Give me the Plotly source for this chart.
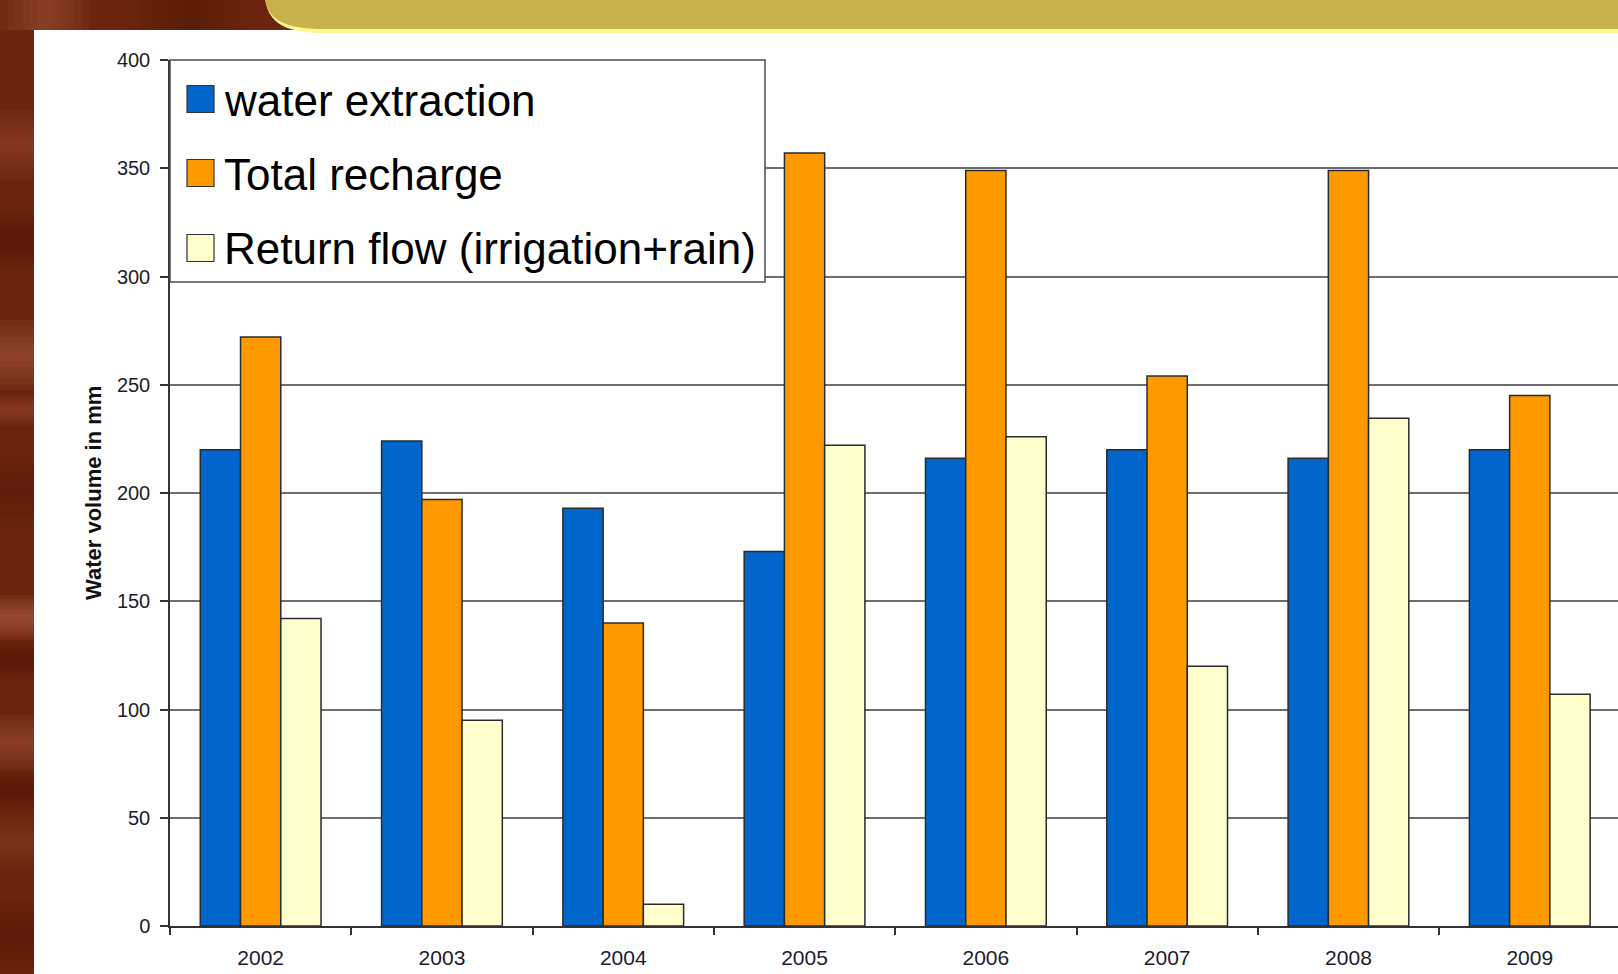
import plotly.graph_objects as go

# ---- data -------------------------------------------------------------
years = ["2002", "2003", "2004", "2005", "2006", "2007", "2008", "2009"]
water_extraction = [220, 224, 193, 173, 216, 220, 216, 220]
total_recharge = [272, 197, 140, 357, 349, 254, 349, 245]
return_flow = [142, 95, 10, 222, 226, 120, 234.5, 107]

series_names = ["water extraction", "Total recharge", "Return flow (irrigation+rain)"]
series_colors = ["#0066cc", "#ff9900", "#ffffcc"]
y_ticks = [0, 50, 100, 150, 200, 250, 300, 350, 400]

# ---- page geometry (pixels) --------------------------------------------
W, H = 1618, 974
L, R, T, B = 170, 0, 60, 48
PW, PH = W - L - R, H - T - B


def px(x):
    return (x - L) / PW


def py(y):
    return (H - B - y) / PH


FONT = "Liberation Sans, Arial, sans-serif"

fig = go.Figure()
for name, vals, col in zip(series_names, [water_extraction, total_recharge, return_flow], series_colors):
    fig.add_trace(go.Bar(
        x=years, y=vals, name=name,
        marker=dict(color=col, line=dict(color="#2b2b2b", width=1.5)),
        showlegend=False,
    ))

shapes = []


def soft_band(x0, y0, x1, y1, color, opacity, vertical=True, steps=6):
    """Stack of translucent rectangles giving a band with feathered edges."""
    for i in range(steps):
        f = i / steps
        if vertical:
            h = (y1 - y0) * (1 - f) / 2
            c = (y0 + y1) / 2
            a, b, c0, c1 = x0, x1, c - h, c + h
        else:
            w = (x1 - x0) * (1 - f) / 2
            c = (x0 + x1) / 2
            a, b, c0, c1 = c - w, c + w, y0, y1
        shapes.append(dict(type="rect", xref="paper", yref="paper",
                           x0=px(a), x1=px(b), y0=py(c1), y1=py(c0),
                           fillcolor=color, opacity=opacity / steps,
                           line_width=0, layer="below"))


# marbled brown frame
for x0, y0, x1, y1, c, o, v in [
    (0, 0, 90, 30, "#a05238", 0.8, False),
    (280, 0, 400, 30, "#a05238", 0.6, False),
    (130, 0, 250, 30, "#4e1406", 0.5, False),
    (0, 110, 34, 180, "#a05238", 0.6, True),
    (0, 210, 34, 270, "#4a1206", 0.5, True),
    (0, 320, 34, 390, "#a8573a", 0.8, True),
    (0, 395, 34, 425, "#a05238", 0.6, True),
    (0, 450, 34, 530, "#5a1a10", 0.5, True),
    (0, 595, 34, 640, "#ad5e40", 0.9, True),
    (0, 640, 34, 680, "#4a1206", 0.5, True),
    (0, 715, 34, 770, "#a05238", 0.7, True),
    (0, 770, 34, 810, "#4a1206", 0.5, True),
    (0, 815, 34, 870, "#93462c", 0.5, True),
    (0, 900, 34, 974, "#4a1206", 0.4, True),
]:
    soft_band(x0, y0, x1, y1, c, o, v)

# white slide panel
shapes.append(dict(type="rect", xref="paper", yref="paper",
                   x0=px(34), x1=px(W + 5), y0=py(H + 5), y1=py(30),
                   fillcolor="white", line_width=0, layer="below"))


def banner_path(dy):
    x0, x1, yb = 265, W + 5, 29 + dy
    return (f"M{px(x0)},{py(-2)} "
            f"C{px(x0 + 3)},{py(yb * 0.8)} {px(x0 + 26)},{py(yb)} {px(x0 + 60)},{py(yb)} "
            f"L{px(x1)},{py(yb)} L{px(x1)},{py(-2)} Z")


# golden title banner with a pale yellow lower rim
shapes.append(dict(type="path", xref="paper", yref="paper", path=banner_path(4),
                   fillcolor="#fdf78f", line_width=0, layer="below"))
shapes.append(dict(type="path", xref="paper", yref="paper", path=banner_path(0),
                   fillcolor="#c9b14b", line_width=0, layer="below"))

# legend box
lx0, lx1, ly0, ly1 = 170, 765, 60, 282
shapes.append(dict(type="rect", xref="paper", yref="paper",
                   x0=px(lx0), x1=px(lx1), y0=py(ly1), y1=py(ly0),
                   fillcolor="white", line=dict(color="#4d4d4d", width=1.5), layer="above"))

annotations = []
row_y = [99, 173, 248]
for name, col, ry in zip(series_names, series_colors, row_y):
    shapes.append(dict(type="rect", xref="paper", yref="paper",
                       x0=px(187), x1=px(214), y0=py(ry + 13.5), y1=py(ry - 13.5),
                       fillcolor=col, line=dict(color="#333333", width=1.2), layer="above"))
    annotations.append(dict(xref="paper", yref="paper", x=px(222), y=py(ry + 1),
                            xanchor="left", yanchor="middle", showarrow=False,
                            text=name, font=dict(family=FONT, size=44, color="#000000")))

# y-axis title
annotations.append(dict(xref="paper", yref="paper", x=px(93), y=py(493),
                        xanchor="center", yanchor="middle", showarrow=False,
                        textangle=-90, text="<b>Water volume in mm</b>",
                        font=dict(family=FONT, size=22, color="#111111")))

cat_w = 181.3
fig.update_layout(
    width=W, height=H,
    margin=dict(l=L, r=R, t=T, b=B, pad=0),
    paper_bgcolor="#6c2410",
    plot_bgcolor="white",
    barmode="group",
    bargap=0.334,
    bargroupgap=0,
    shapes=shapes,
    annotations=annotations,
    font=dict(family=FONT, size=20, color="#1c1c2c"),
    xaxis=dict(
        type="category",
        range=[-0.5, -0.5 + PW / cat_w],
        showgrid=False,
        showline=True, linecolor="#333333", linewidth=1.5,
        ticks="outside", tickson="boundaries", ticklen=7, tickwidth=1.5, tickcolor="#333333",
        tickfont=dict(family=FONT, size=21, color="#1c1c2c"),
        ticklabelstandoff=12,
        fixedrange=True,
    ),
    yaxis=dict(
        range=[0, 400],
        tickvals=y_ticks,
        showgrid=True, gridcolor="#6e6e6e", gridwidth=1.8,
        zeroline=False,
        showline=True, linecolor="#333333", linewidth=1.5,
        ticks="outside", ticklen=8, tickwidth=1.5, tickcolor="#333333",
        tickfont=dict(family=FONT, size=20, color="#1c1c2c"),
        ticklabelstandoff=6,
        fixedrange=True,
    ),
)

fig.write_html("out.html")
